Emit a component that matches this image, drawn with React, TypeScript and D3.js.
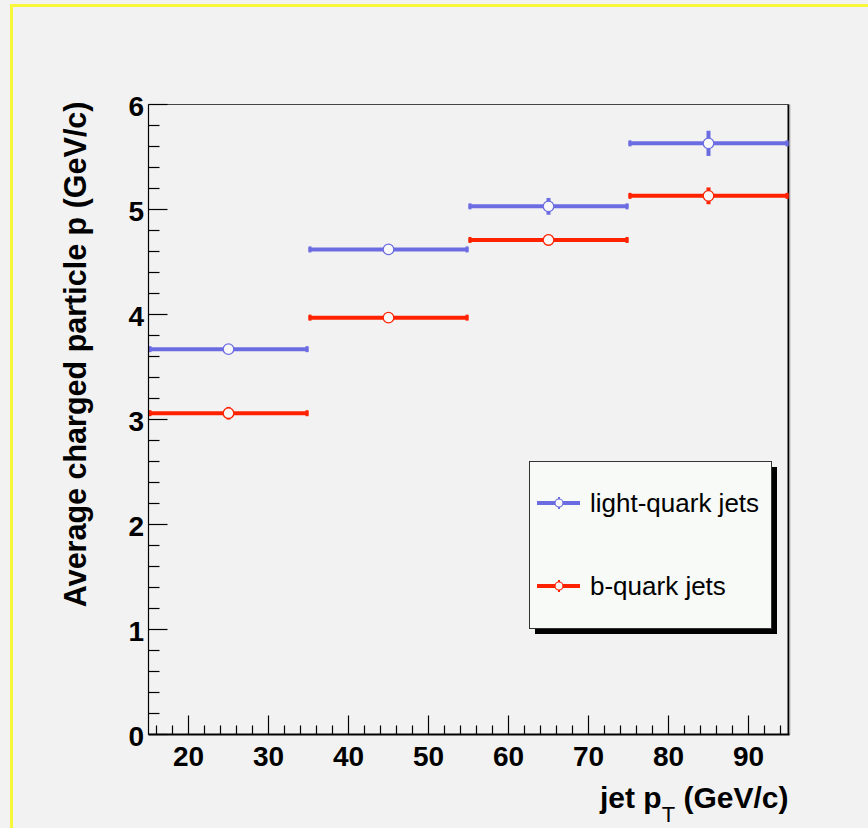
import React from 'react';
import * as d3 from 'd3';

// bins in jet pT (GeV/c)
const binEdges = [15, 35, 55, 75, 95];
const lightValues = [3.67, 4.62, 5.03, 5.63];
const lightErrors = [0.03, 0.04, 0.08, 0.12];
const bValues = [3.06, 3.97, 4.71, 5.13];
const bErrors = [0.06, 0.04, 0.05, 0.08];
const xMajorTicks = [20, 30, 40, 50, 60, 70, 80, 90];
const yMajorTicks = [0, 1, 2, 3, 4, 5, 6];
const legendLabels = ['light-quark jets', 'b-quark jets'];

const W = 868;
const H = 828;
const BLUE = '#6c6ce2';
const RED = '#ff2200';
const BG = '#f2f2f2';

const x = d3.scaleLinear().domain([15, 95]).range([148.5, 788.5]);
const y = d3.scaleLinear().domain([0, 6]).range([734.5, 104.5]);

const xMinor = d3.range(16, 95, 2).filter(v => v % 10 !== 0);
const yMinor = d3.range(0, 6.001, 0.2).map(v => +v.toFixed(1)).filter(v => !Number.isInteger(v));

function Series({ values, errors, color }: { values: number[]; errors: number[]; color: string }) {
  return (
    <g>
      {values.map((v, i) => {
        const x0 = x(binEdges[i]);
        const x1 = x(binEdges[i + 1]);
        const xc = x((binEdges[i] + binEdges[i + 1]) / 2);
        const yc = y(v);
        return (
          <g key={i}>
            <line x1={x0} x2={x1} y1={yc} y2={yc} stroke={color} strokeWidth={4} />
            <rect x={x0} y={yc - 3} width={3} height={6} fill={color} />
            <rect x={x1 - 3} y={yc - 3} width={3} height={6} fill={color} />
            <line x1={xc} x2={xc} y1={y(v + errors[i])} y2={y(v - errors[i])} stroke={color} strokeWidth={4} />
            <circle cx={xc} cy={yc} r={5.3} fill="#f8f8f8" stroke={color} strokeWidth={1.3} />
          </g>
        );
      })}
    </g>
  );
}

export default function App() {
  const lx = 529, ly = 461, lw = 242, lh = 167;
  const entries = [
    { label: legendLabels[0], color: BLUE, yy: 503 },
    { label: legendLabels[1], color: RED, yy: 586 },
  ];
  return (
    <svg width={W} height={H} style={{ position: 'absolute', left: 0, top: 0 }}
      fontFamily="'Liberation Sans', Arial, Helvetica, sans-serif">
      <rect x={0} y={0} width={W} height={H} fill={BG} />
      {/* yellow canvas border */}
      <line x1={11} x2={W} y1={5.5} y2={5.5} stroke="#f8f83a" strokeWidth={3} />
      <line x1={11.5} x2={11.5} y1={4} y2={H} stroke="#f8f83a" strokeWidth={3} />

      {/* frame */}
      <line x1={x(15)} x2={x(95)} y1={y(6)} y2={y(6)} stroke="#444" strokeWidth={1} />
      <line x1={x(95)} x2={x(95)} y1={y(6)} y2={y(0)} stroke="#000" strokeWidth={2} />
      <line x1={x(95) + 1.5} x2={x(95) + 1.5} y1={y(6)} y2={y(0)} stroke="#bbb" strokeWidth={1} />

      <Series values={lightValues} errors={lightErrors} color={BLUE} />
      <Series values={bValues} errors={bErrors} color={RED} />

      {/* y axis */}
      <line x1={x(15)} x2={x(15)} y1={y(6)} y2={y(0)} stroke="#000" strokeWidth={1.2} />
      {yMajorTicks.map(t => (
        <g key={t}>
          <line x1={x(15)} x2={x(15) + 19} y1={y(t)} y2={y(t)} stroke="#000" strokeWidth={1.2} />
          <text x={144} y={y(t) + 11} textAnchor="end" fontSize={28} fontWeight="bold">{t}</text>
        </g>
      ))}
      {yMinor.map(t => (
        <line key={t} x1={x(15)} x2={x(15) + 11} y1={y(t)} y2={y(t)} stroke="#000" strokeWidth={1.2} />
      ))}

      {/* x axis */}
      <line x1={x(15)} x2={x(95) + 1} y1={y(0)} y2={y(0)} stroke="#000" strokeWidth={2} />
      {xMajorTicks.map(t => (
        <g key={t}>
          <line x1={x(t)} x2={x(t)} y1={y(0)} y2={y(0) - 19} stroke="#000" strokeWidth={1.2} />
          <text x={x(t)} y={766} textAnchor="middle" fontSize={28} fontWeight="bold">{t}</text>
        </g>
      ))}
      {xMinor.map(t => (
        <line key={t} x1={x(t)} x2={x(t)} y1={y(0)} y2={y(0) - 9} stroke="#000" strokeWidth={1.2} />
      ))}

      {/* axis titles */}
      <text transform={`translate(86,${y(6) - 3}) rotate(-90)`} textAnchor="end" fontSize={30.5} fontWeight="bold">
        Average charged particle p (GeV/c)
      </text>
      <text x={x(95)} y={808} textAnchor="end" fontSize={30} fontWeight="bold">
        jet p<tspan dy={14} fontSize={22} fontWeight="normal">T</tspan><tspan dy={-14}> (GeV/c)</tspan>
      </text>

      {/* legend */}
      <rect x={lx + 6} y={ly + 6} width={lw} height={lh} fill="#000" />
      <rect x={lx + 0.5} y={ly + 0.5} width={lw} height={lh} fill="#f7faf7" stroke="#333" strokeWidth={1} />
      {entries.map(e => (
        <g key={e.label}>
          <line x1={537} x2={580} y1={e.yy} y2={e.yy} stroke={e.color} strokeWidth={4} />
          <line x1={559} x2={559} y1={e.yy - 6} y2={e.yy + 6} stroke={e.color} strokeWidth={2} />
          <circle cx={559} cy={e.yy} r={4} fill="#f8f8f8" stroke={e.color} strokeWidth={1.2} />
          <text x={590} y={e.yy + 9} fontSize={26}>{e.label}</text>
        </g>
      ))}
    </svg>
  );
}
